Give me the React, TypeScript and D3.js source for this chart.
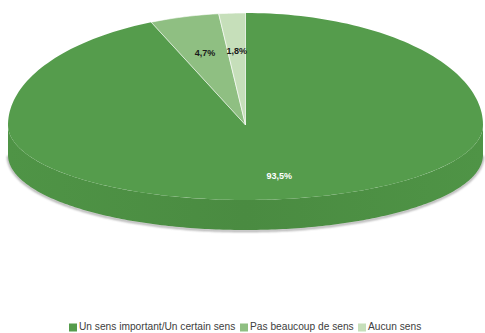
import React from "react";
import * as d3 from "d3";

const categories = ["Un sens important/Un certain sens", "Pas beaucoup de sens", "Aucun sens"];
const values = [93.5, 4.7, 1.8];
const labels = ["93,5%", "4,7%", "1,8%"];
const colors = ["#559c4c", "#8fbf82", "#c6dfba"];
const labelColors = ["#ffffff", "#1a1a1a", "#1a1a1a"];

const W = 485;
const H = 333;
const cx = 245.5;
const cy = 125;
const rx = 237.5;
const ryBack = 112;
const ryFront = 75;
const depth = 30;

function proj(theta: number, r: number, dz = 0): [number, number] {
  const c = Math.cos(theta);
  const ry = c > 0 ? ryBack : ryFront;
  return [cx + rx * r * Math.sin(theta), cy - r * c * ry + dz];
}

export default function App() {
  const pie = d3.pie<number>().sort(null).value((d) => d);
  const arcs = pie(values);
  const line = d3.line();

  const slicePath = (a0: number, a1: number) => {
    const n = Math.max(8, Math.ceil(((a1 - a0) / (2 * Math.PI)) * 240));
    const pts: [number, number][] = [[cx, cy]];
    for (let i = 0; i <= n; i++) pts.push(proj(a0 + ((a1 - a0) * i) / n, 1));
    return line(pts) + "Z";
  };

  const sidePts: [number, number][] = [];
  const ns = 200;
  for (let i = 0; i <= ns; i++) sidePts.push(proj(Math.PI / 2 + (Math.PI * i) / ns, 1));
  for (let i = ns; i >= 0; i--) sidePts.push(proj(Math.PI / 2 + (Math.PI * i) / ns, 1, depth));
  const sidePath = line(sidePts) + "Z";
  const shadowPts: [number, number][] = [];
  for (let i = 0; i <= ns; i++) shadowPts.push(proj(Math.PI / 2 + (Math.PI * i) / ns, 1, depth + 1));
  const shadowPath = line(shadowPts) || "";

  const legendX = [69, 240, 358];

  return (
    <svg width={W} height={H} style={{ position: "absolute", left: 0, top: 0 }}>
      <defs>
        <linearGradient id="side" x1="0" y1="0" x2="1" y2="0">
          <stop offset="0" stopColor="#4f9446" />
          <stop offset="0.5" stopColor="#4a8b41" />
          <stop offset="1" stopColor="#4f9446" />
        </linearGradient>
        <filter id="blur" x="-5%" y="-50%" width="110%" height="200%">
          <feGaussianBlur stdDeviation="1.2" />
        </filter>
      </defs>
      <path d={shadowPath} fill="none" stroke="#8a8a8a" strokeWidth={2} filter="url(#blur)" opacity={0.8} />
      <path d={sidePath} fill="url(#side)" />
      {arcs.map((a, i) => (
        <path key={i} d={slicePath(a.startAngle, a.endAngle)} fill={colors[i]} stroke={i === 0 ? "none" : "#ffffff"} strokeWidth={0.6} />
      ))}
      {arcs.map((a, i) => {
        const mid = (a.startAngle + a.endAngle) / 2;
        const [x, y] = proj(mid, i === 0 ? 0.7 : 0.66);
        return (
          <text
            key={i}
            x={x}
            y={y}
            textAnchor="middle"
            dominantBaseline="middle"
            fontFamily="Liberation Sans, Arial, sans-serif"
            fontSize={9}
            fontWeight="bold"
            fill={labelColors[i]}
          >
            {labels[i]}
          </text>
        );
      })}
      {categories.map((c, i) => (
        <g key={c} transform={`translate(${legendX[i]},327.5)`}>
          <rect x={0} y={-4} width={8} height={8} fill={colors[i]} />
          <text x={10} y={0} dominantBaseline="middle" fontFamily="Liberation Sans, Arial, sans-serif" fontSize={10.2} fill="#404040">
            {c}
          </text>
        </g>
      ))}
    </svg>
  );
}
